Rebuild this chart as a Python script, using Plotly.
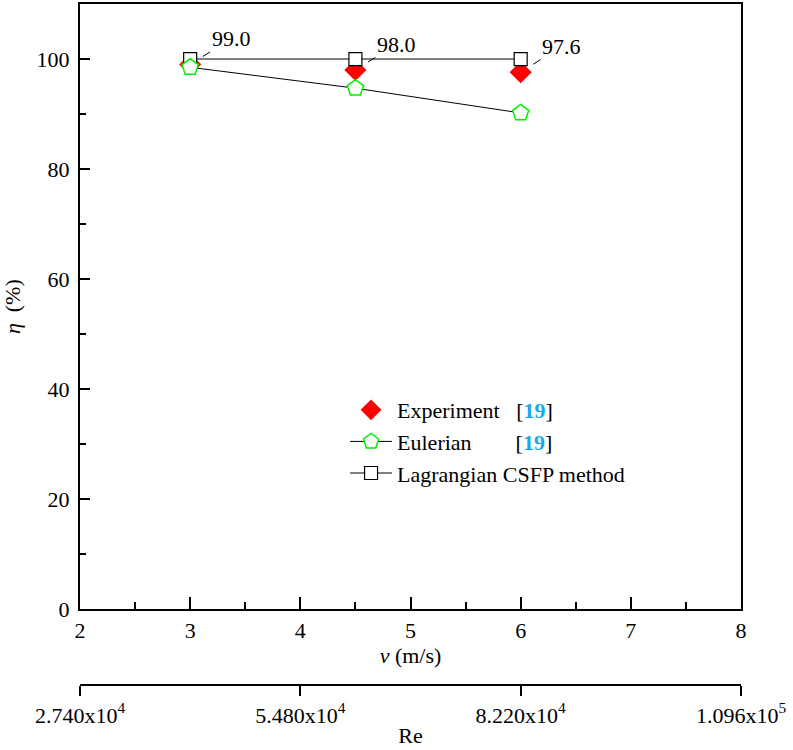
import plotly.graph_objects as go

# ---- data ----
v = [3, 4.5, 6]
experiment = [99.0, 98.0, 97.6]
eulerian = [98.5, 94.7, 90.2]
lagrangian = [100.0, 100.0, 100.0]
exp_labels = ["99.0", "98.0", "97.6"]

x_ticks = [2, 3, 4, 5, 6, 7, 8]
y_ticks = [0, 20, 40, 60, 80, 100]
re_ticks = [27400, 54800, 82200, 109600]
re_labels = ["2.740x10<sup>4</sup>", "5.480x10<sup>4</sup>",
             "8.220x10<sup>4</sup>", "1.096x10<sup>5</sup>"]

FONT = "Liberation Serif"
NB = "\u00a0"

fig = go.Figure()

fig.add_trace(go.Scatter(
    x=v, y=experiment, mode="markers",
    name="Experiment" + NB * 3 + "[<b><span style='color:#19a9e8'>19</span></b>]",
    marker=dict(symbol="diamond", size=17, color="#ff0000", line=dict(width=0)),
    legendrank=1,
))
fig.add_trace(go.Scatter(
    x=v, y=lagrangian, mode="lines+markers",
    name="Lagrangian CSFP method",
    line=dict(color="black", width=1),
    marker=dict(symbol="square", size=13, color="white",
                line=dict(color="black", width=1.2)),
    legendrank=3,
))
fig.add_trace(go.Scatter(
    x=v, y=eulerian, mode="lines+markers",
    name="Eulerian" + NB * 8 + "[<b><span style='color:#19a9e8'>19</span></b>]",
    line=dict(color="black", width=1),
    marker=dict(symbol="pentagon", size=17, color="white",
                line=dict(color="#00f000", width=1.5)),
    legendrank=2,
))
# invisible trace that carries the Reynolds-number axis
fig.add_trace(go.Scatter(
    x=[re_ticks[0], re_ticks[-1]], y=[None, None], xaxis="x2",
    mode="markers", showlegend=False, hoverinfo="skip",
))

for xv, yv, txt in zip(v, experiment, exp_labels):
    fig.add_annotation(
        x=xv, y=yv, text=txt, showarrow=True, arrowhead=0, arrowwidth=1,
        arrowcolor="black", ax=41, ay=-26, standoff=15,
        font=dict(family=FONT, size=22, color="black"),
    )

fig.update_layout(
    width=793, height=750,
    margin=dict(l=80, r=52, t=2, b=25),
    paper_bgcolor="white", plot_bgcolor="white",
    font=dict(family=FONT, size=22, color="black"),
    showlegend=True,
    legend=dict(x=0.401, y=0.466, xanchor="left", yanchor="top",
                bgcolor="rgba(0,0,0,0)", font=dict(family=FONT, size=22),
                itemwidth=42, tracegroupgap=0),
    xaxis=dict(
        range=[2, 8], tickvals=x_ticks, ticks="inside", ticklen=12, tickwidth=2,
        tickcolor="black", showline=True, linewidth=2, linecolor="black",
        mirror=True, showgrid=False, zeroline=False,
        minor=dict(dtick=0.5, tick0=2, ticks="inside", ticklen=7, tickwidth=2,
                   tickcolor="black", showgrid=False),
        title=dict(text="<i>v</i> (m/s)", font=dict(size=22), standoff=4),
        tickfont=dict(size=22),
    ),
    xaxis2=dict(
        overlaying="x", anchor="free", position=0.0553, side="bottom",
        range=[re_ticks[0], re_ticks[-1]], tickmode="array",
        tickvals=re_ticks, ticktext=re_labels,
        ticks="outside", ticklen=10, tickwidth=2, tickcolor="black",
        showline=True, linewidth=2, linecolor="black",
        showgrid=False, zeroline=False,
        minor=dict(tick0=27400, dtick=27400, ticks="outside", ticklen=6,
                   tickwidth=2, tickcolor="black", showgrid=False),
        title=dict(text="Re", font=dict(size=22), standoff=0),
        tickfont=dict(size=22),
    ),
    yaxis=dict(
        domain=[0.1604, 1], range=[0, 110], tickvals=y_ticks,
        ticks="inside", ticklen=10, tickwidth=2, tickcolor="black",
        showline=True, linewidth=2, linecolor="black", mirror=True,
        showgrid=False, zeroline=False, ticklabelstandoff=4,
        minor=dict(dtick=10, tick0=0, ticks="inside", ticklen=6, tickwidth=2,
                   tickcolor="black", showgrid=False),
        title=dict(text="<i>η</i>" + NB * 2 + "(%)", font=dict(size=22), standoff=12),
        tickfont=dict(size=22),
    ),
)

fig.write_html("out.html", config={"displayModeBar": False},
               post_script="document.body.style.margin='0';document.body.style.overflow='hidden';")
